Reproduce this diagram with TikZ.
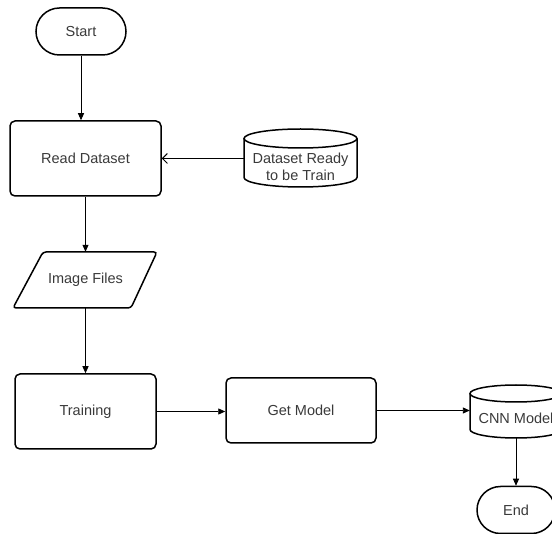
\documentclass[tikz,border=0pt]{standalone}
\usepackage{fontspec}
\setmainfont{Liberation Sans}
\usetikzlibrary{arrows.meta,calc}
\definecolor{txt}{HTML}{3A3A3A}
\tikzset{
  box/.style={draw, line width=1.5pt, rounded corners=5pt, font=\fontsize{14.5}{17.5}\selectfont, text=txt, align=center, inner sep=0pt},
  term/.style={draw, line width=1.5pt, rounded corners=23.5pt, minimum width=90pt, minimum height=47pt, font=\fontsize{14.5}{17.5}\selectfont, text=txt, inner sep=0pt},
  plain/.style={font=\fontsize{14.5}{17.5}\selectfont, text=txt, align=center, inner sep=0pt},
  shp/.style={line width=1.5pt},
  conn/.style={line width=0.9pt, -{Triangle[length=7pt,width=6pt]}},
  openconn/.style={line width=0.9pt, -{Straight Barb[length=5pt,width=10pt,line width=0.9pt]}},
}
\begin{document}
\begin{tikzpicture}[x=1pt,y=-1pt]
\useasboundingbox (0,0) rectangle (552,534);
\clip (0,0) rectangle (552,534);
\fill[white] (0,0) rectangle (552,534);
% nodes
\node[term] (start) at (81,31.5) {Start};
\node[box, minimum width=151pt, minimum height=75pt] (rd) at (85.5,158.5) {Read Dataset};
% Dataset cylinder
\draw[shp] (244,138.5) -- (244,177.5) arc[start angle=180,end angle=360,x radius=56.5pt,y radius=9.5pt] -- (357,138.5);
\draw[shp] (300.5,138.5) ellipse [x radius=56.5pt, y radius=9.5pt];
\node[plain, minimum width=113pt] (dr) at (300.5,167) {Dataset Ready\\to be Train};
% Image Files parallelogram
\draw[shp, rounded corners=3pt] (43,252) -- (157,252) -- (131,308) -- (13,308) -- cycle;
\node[plain, minimum width=144pt, minimum height=56pt] (img) at (85.5,280) {Image Files};
\node[box, minimum width=141pt, minimum height=75pt] (tr) at (85.5,411.5) {Training};
\node[box, minimum width=150pt, minimum height=65pt] (gm) at (301,410.5) {Get Model};
% CNN cylinder
\draw[shp] (470,393.5) -- (470,429.5) arc[start angle=180,end angle=360,x radius=46pt,y radius=8.5pt] -- (562,393.5);
\draw[shp] (516,393.5) ellipse [x radius=46pt, y radius=8.5pt];
\node[plain, minimum width=92pt, minimum height=53pt] (cnn) at (516,411.5) {};
\node[plain] (cnntext) at (516,418) {CNN Model};
\node[term, minimum width=78pt] (end) at (516,510) {End};
% connectors
\draw[conn] (start.south) -- (start.south |- rd.north);
\draw[openconn] (dr.west |- rd.east) -- (rd.east);
\draw[conn] (rd.south) -- (img.north);
\draw[conn] (img.south) -- (tr.north);
\draw[conn] (tr.east) -- (gm.west |- tr.east);
\draw[conn] (gm.east) -- (cnn.west |- gm.east);
\draw[conn] (cnn.south) -- (end.north);
\end{tikzpicture}
\end{document}
